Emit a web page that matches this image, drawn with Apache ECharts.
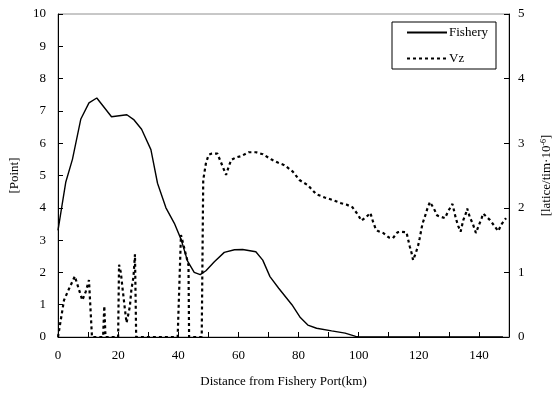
<!DOCTYPE html>
<html>
<head>
<meta charset="utf-8">
<script src="https://cdn.jsdelivr.net/npm/echarts@6/dist/echarts.min.js"></script>
<style>html,body{margin:0;padding:0;background:#fff}#c{width:554px;height:396px}</style>
</head>
<body>
<div id="c"></div>
<script>
// Distance (km) and fishery points (left axis)
var fisheryX = [0,1.2,2.6,4.8,7.6,10.3,12.9,17.8,22.9,25.3,27.8,30.9,33.1,35.9,38.7,40.9,43.1,45.3,47.3,49.2,52,55.3,58.7,61.4,65.8,68.1,70.5,73.4,77.8,80.6,83.1,86,91,95.5,99,100,110,120,130,140,148];
var fisheryY = [3.3,4.0,4.8,5.5,6.75,7.25,7.4,6.82,6.88,6.72,6.43,5.8,4.76,4.0,3.52,3.03,2.35,2.0,1.93,2.05,2.33,2.62,2.7,2.71,2.64,2.38,1.87,1.51,1.0,0.6,0.37,0.27,0.19,0.12,0.02,0,0,0,0,0,0];
// Vz (right axis, latice/tim·10^-6)
var vzX = [0,2,3.7,5.6,7,8.1,9.2,10.3,11.3,15,15.4,15.8,20,20.3,20.9,21.4,22.2,22.8,23.9,24.4,25.1,25.6,26,39.8,40.9,43.4,43.6,47.8,48.3,49.2,50.1,51.2,53,55.9,56.8,57.6,59.2,60.9,63.4,65.9,68.1,70.9,73.1,75.3,78.1,80.3,83.1,85.9,88.7,91.4,94.2,95.9,97.9,99.8,100.9,102.6,103.9,104.8,105.7,106.4,108.1,110.1,111.4,112.9,114,115.9,117,117.6,118.1,119,119.8,120.3,121.2,122,122.8,123.7,125,126.1,128.7,129.8,131.2,132.3,133.1,133.9,134.8,135.7,136.1,137,137.9,139,139.9,140.9,141.4,143.7,146.4,147.6,149];
var vzY = [0,0.57,0.75,0.94,0.73,0.57,0.7,0.88,0,0,0.48,0,0,1.12,1.0,0.78,0.45,0.22,0.47,0.73,0.93,1.28,0,0,1.58,1.11,0,0,2.43,2.69,2.82,2.84,2.84,2.51,2.64,2.74,2.78,2.80,2.86,2.86,2.83,2.75,2.70,2.66,2.56,2.43,2.35,2.21,2.16,2.12,2.07,2.05,2.01,1.89,1.80,1.86,1.92,1.78,1.67,1.64,1.61,1.54,1.53,1.62,1.63,1.62,1.40,1.30,1.19,1.30,1.42,1.53,1.75,1.86,1.98,2.09,1.99,1.88,1.84,1.95,2.06,1.84,1.72,1.63,1.81,1.92,1.99,1.85,1.76,1.61,1.72,1.84,1.91,1.81,1.64,1.75,1.84];
var leftTicks = {min:0, max:10, interval:1};
var rightTicks = {min:0, max:5, interval:1};
var xTicks = {min:0, max:150, interval:10, labelEvery:20};

function pairs(xs, ys){ return xs.map(function(x,i){ return [x, ys[i]]; }); }

var FONT = 'Liberation Serif';
var chart = echarts.init(document.getElementById('c'), null, {renderer:'canvas'});
chart.setOption({
  animation:false,
  backgroundColor:'#fff',
  grid:{left:58, right:45, top:14, bottom:59, containLabel:false, outerBoundsMode:'none',
    show:true, borderColor:'#909090', borderWidth:1, backgroundColor:'transparent'},
  legend:{
    data:['Fishery','Vz'], orient:'vertical', left:392, top:22,
    itemWidth:40, itemHeight:14, itemGap:13, padding:[4,8,4,14],
    borderColor:'#000', borderWidth:1, backgroundColor:'#fff',
    itemStyle:{opacity:0},
    textStyle:{fontFamily:FONT, fontSize:13, color:'#000', padding:[0,0,0,-3]}
  },
  xAxis:{
    type:'value', min:xTicks.min, max:xTicks.max, interval:xTicks.interval,
    name:'Distance from Fishery Port(km)', nameLocation:'middle', nameGap:38,
    nameTextStyle:{fontFamily:FONT, fontSize:13, color:'#000'},
    axisLine:{show:true, onZero:false, lineStyle:{color:'#000', width:1}},
    axisTick:{show:true, inside:true, length:5, lineStyle:{color:'#000'}},
    axisLabel:{fontFamily:FONT, fontSize:13, color:'#000', margin:12,
      formatter:function(v){ return (v % xTicks.labelEvery === 0 && v < xTicks.max) ? String(v) : ''; }},
    splitLine:{show:false}
  },
  yAxis:[{
    type:'value', min:leftTicks.min, max:leftTicks.max, interval:leftTicks.interval, position:'left',
    name:'[Point]', nameLocation:'middle', nameGap:37, nameRotate:90,
    nameTextStyle:{fontFamily:FONT, fontSize:13, color:'#000'},
    axisLine:{show:true, lineStyle:{color:'#000', width:1}},
    axisTick:{show:true, inside:true, length:5, lineStyle:{color:'#000'}},
    axisLabel:{fontFamily:FONT, fontSize:13, color:'#000', margin:12},
    splitLine:{show:false}
  },{
    type:'value', min:rightTicks.min, max:rightTicks.max, interval:rightTicks.interval, position:'right',
    name:'{a|[latice/tim·10}{s|-6}{a|]}', nameLocation:'middle', nameGap:31, nameRotate:90,
    nameTextStyle:{fontFamily:FONT, fontSize:13, color:'#000',
      rich:{a:{fontFamily:FONT, fontSize:13, color:'#000'}, s:{fontFamily:FONT, fontSize:8, color:'#000', verticalAlign:'top', padding:[0,0,6,0]}}},
    axisLine:{show:true, lineStyle:{color:'#000', width:1}},
    axisTick:{show:true, inside:true, length:5, lineStyle:{color:'#000'}},
    axisLabel:{fontFamily:FONT, fontSize:13, color:'#000', margin:9},
    splitLine:{show:false}
  }],
  series:[{
    name:'Fishery', type:'line', yAxisIndex:0, symbol:'none', smooth:false,
    data:pairs(fisheryX, fisheryY),
    lineStyle:{color:'#000', width:1.4}, itemStyle:{color:'#000'}, z:3
  },{
    name:'Vz', type:'line', yAxisIndex:1, symbol:'none', smooth:false,
    data:pairs(vzX, vzY),
    lineStyle:{color:'#000', width:2.2, type:[3,3], cap:'butt'}, itemStyle:{color:'#000'}, z:2
  }]
});
</script>
</body>
</html>
